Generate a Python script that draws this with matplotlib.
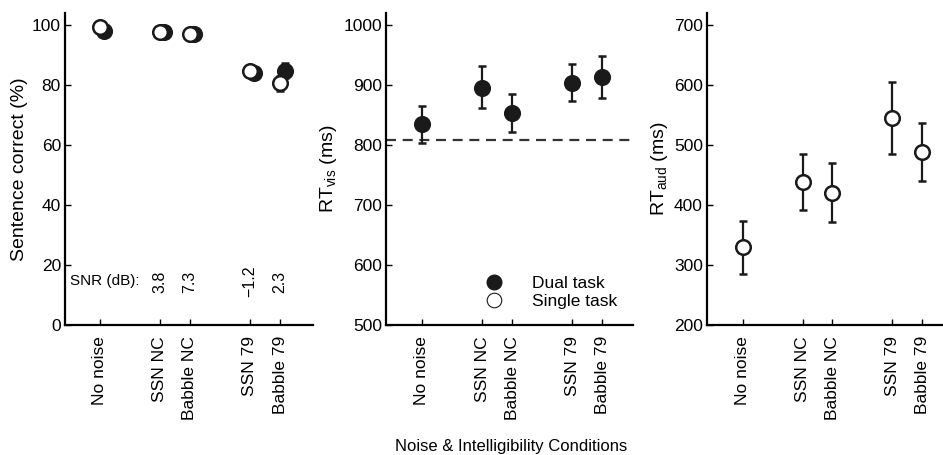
import matplotlib
matplotlib.use("Agg")
import matplotlib.pyplot as plt
from matplotlib.lines import Line2D

plt.rcParams['font.family'] = ['Liberation Sans', 'DejaVu Sans']
plt.rcParams['mathtext.fontset'] = 'custom'
plt.rcParams['mathtext.rm'] = 'Liberation Sans'
plt.rcParams['mathtext.it'] = 'Liberation Sans'

conditions = ['No noise', 'SSN NC', 'Babble NC', 'SSN 79', 'Babble 79']
xpos = [1, 3, 4, 6, 7]
snr_labels = ['3.8', '7.3', '\u22121.2', '2.3']

# sentence correct (%)
acc_dual = [98.1, 97.5, 96.8, 84.1, 84.7]
acc_dual_err = [0, 0, 0, 0, 2.5]
acc_single = [99.4, 97.5, 96.9, 84.7, 80.6]
acc_single_err = [0, 0, 0, 0, 2.5]

# visual RT, dual task (ms)
rtvis_dual = [835, 895, 853, 904, 913]
rtvis_lo = [31, 34, 31, 31, 35]
rtvis_hi = [30, 36, 32, 31, 35]
rtvis_single = 809

# auditory RT, single task (ms)
rtaud_single = [330, 438, 420, 545, 489]
rtaud_lo = [45, 47, 49, 60, 49]
rtaud_hi = [44, 47, 50, 60, 48]

fig = plt.figure(figsize=(9.43, 4.55), dpi=100)

ax1 = fig.add_axes([0.069, 0.2857, 0.263, 0.686])
ax2 = fig.add_axes([0.4093, 0.2857, 0.262, 0.686])
ax3 = fig.add_axes([0.7497, 0.2857, 0.2503, 0.686])

ms = 10.5
mew = 1.8
off = 0.15
dark = '#1a1a1a'


def style(ax, ylim, yticks, xlim):
    for s in ['top', 'right']:
        ax.spines[s].set_visible(False)
    for s in ['left', 'bottom']:
        ax.spines[s].set_linewidth(1.6)
    ax.set_xlim(*xlim)
    ax.set_ylim(*ylim)
    ax.set_yticks(yticks)
    ax.set_xticks(xpos)
    ax.set_xticklabels(conditions, rotation=90, fontsize=12.5)
    ax.tick_params(direction='in', length=4, width=1.0, labelsize=12.5)
    ax.tick_params(axis='x', pad=8)
    ax.tick_params(axis='y', pad=3)


# panel 1
style(ax1, (0, 104), [0, 20, 40, 60, 80, 100], (-0.15, 8.1))
ax1.errorbar([x + off for x in xpos], acc_dual, yerr=acc_dual_err, fmt='o',
             color=dark, mfc=dark, mec=dark, ms=ms, mew=mew,
             elinewidth=1.6, capsize=3, capthick=1.6, zorder=3)
ax1.errorbar(xpos, acc_single, yerr=acc_single_err, fmt='o',
             color=dark, mfc='white', mec=dark, ms=ms, mew=mew,
             elinewidth=1.6, capsize=3, capthick=1.6, zorder=4)
ax1.set_ylabel('Sentence correct (%)', fontsize=14, labelpad=3)
ax1.text(0.02, 14.5, 'SNR (dB):', fontsize=11, ha='left', va='center')
for x, s in zip(xpos[1:], snr_labels):
    ax1.text(x, 14.5, s, fontsize=11.5, rotation=90, ha='center', va='center')

# panel 2
style(ax2, (500, 1020), [500, 600, 700, 800, 900, 1000], (-0.2, 8.03))
ax2.axhline(rtvis_single, color='#333333', lw=1.6, ls=(0, (4.5, 3)), zorder=1)
ax2.errorbar(xpos, rtvis_dual, yerr=[rtvis_lo, rtvis_hi], fmt='o',
             color=dark, mfc=dark, mec=dark, ms=ms, mew=mew,
             elinewidth=1.6, capsize=3, capthick=1.6, zorder=3)
ax2.set_ylabel(r'RT$_{\rm vis}$ (ms)', fontsize=14, labelpad=3)
handles = [
    Line2D([], [], ls='none', marker='o', ms=ms, mfc=dark, mec=dark),
    Line2D([], [], ls='none', marker='o', ms=ms, mfc='white', mec=dark, mew=0.8),
]
ax2.legend(handles, ['Dual task', 'Single task'], loc='lower right', frameon=False,
           fontsize=12.5, handletextpad=1.2, labelspacing=0.2,
           bbox_to_anchor=(1.0, 0.0))

# panel 3
style(ax3, (200, 720), [200, 300, 400, 500, 600, 700], (-0.2, 7.7))
ax3.errorbar(xpos, rtaud_single, yerr=[rtaud_lo, rtaud_hi], fmt='o',
             color=dark, mfc='white', mec=dark, ms=ms, mew=mew,
             elinewidth=1.6, capsize=3, capthick=1.6, zorder=3)
ax3.set_ylabel(r'RT$_{\rm aud}$ (ms)', fontsize=14, labelpad=3)

fig.text(0.542, 0.018, 'Noise & Intelligibility Conditions', ha='center',
         va='center', fontsize=12)

fig.savefig('out.png', dpi=100)
